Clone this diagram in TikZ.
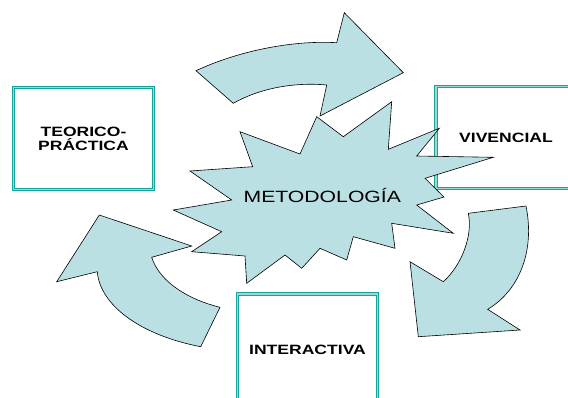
\documentclass[tikz,border=0pt]{standalone}
\usepackage{fontspec}
\setmainfont{Liberation Sans}
\usepackage{graphicx}
\definecolor{verdeazul}{HTML}{17A39C}
\definecolor{verdeclaro}{HTML}{9AD9D5}
\definecolor{celeste}{HTML}{BBE0E3}
\newcommand{\ancho}[1]{\scalebox{1.3}[1]{#1}}
\tikzset{
  caja/.style={draw=verdeazul, double=verdeclaro, line width=1.3pt, double distance=1.1pt,
    fill=white, minimum width=140pt, minimum height=102pt, inner sep=0pt, align=center,
    font=\fontsize{13.5}{14.3}\selectfont\bfseries},
  forma/.style={draw=black, fill=celeste, line width=0.6pt, line join=miter}
}
\begin{document}
\begin{tikzpicture}[x=1pt, y=-1pt]
\useasboundingbox (0,0) rectangle (568,397);
\clip (0,0) rectangle (568,397);
% cajas
\node[caja] (teorica) at (83.5,138.5) {\ancho{TEORICO-}\\\ancho{PRÁCTICA}};
\node[caja] (vivencial) at (506,137.5) {\ancho{VIVENCIAL}};
\node[caja, minimum height=112pt] (interactiva) at (307.5,350) {\ancho{INTERACTIVA}};
% flechas
\draw[forma] (196,70.7) .. controls (236,52) and (290,40) .. (336.7,42.7) -- (344.3,12.7)
  -- (403.3,72.7) -- (320,116) -- (326.7,85) .. controls (295,82) and (260,88) .. (233.3,103.3) -- cycle;
\draw[forma] (468.3,213.3) -- (526,206) .. controls (535,250) and (520,290) .. (487.7,309.3)
  -- (520,330) -- (418.3,336.7) -- (410,261.7) -- (443.3,281.7)
  .. controls (462,265) and (473,235) .. (468.3,213.3) -- cycle;
\draw[forma] (56.7,281.7) -- (99.3,215) -- (191.7,246) -- (151.7,257.3)
  .. controls (160,283) and (190,300) .. (220,307.3) -- (200.7,346.7)
  .. controls (140,335) and (100,305) .. (97.3,271.7) -- cycle;
% estrella
\draw[forma] (240,131.7) -- (300,154) -- (316.7,116.7) -- (343.3,136.7) -- (391.7,101.7)
  -- (388.3,149.3) -- (439.3,128.3) -- (416.7,156) -- (493.3,157.3) -- (425,178.3)
  -- (444,197) -- (416.7,205) -- (453.3,233.3) -- (391.7,223.3) -- (395,248.3)
  -- (353.3,236.7) -- (346.7,260) -- (320,248.3) -- (301.7,268.3) -- (285,255)
  -- (246.7,283.3) -- (245,256) -- (191.7,251.7) -- (221.7,231.7) -- (173.3,210)
  -- (231.7,200) -- (190,171) -- (252.7,166.7) -- cycle;
\node[font=\fontsize{16.3}{18}\selectfont] (metodologia) at (322.3,195.5) {\ancho{METODOLOGÍA}};
\end{tikzpicture}
\end{document}
